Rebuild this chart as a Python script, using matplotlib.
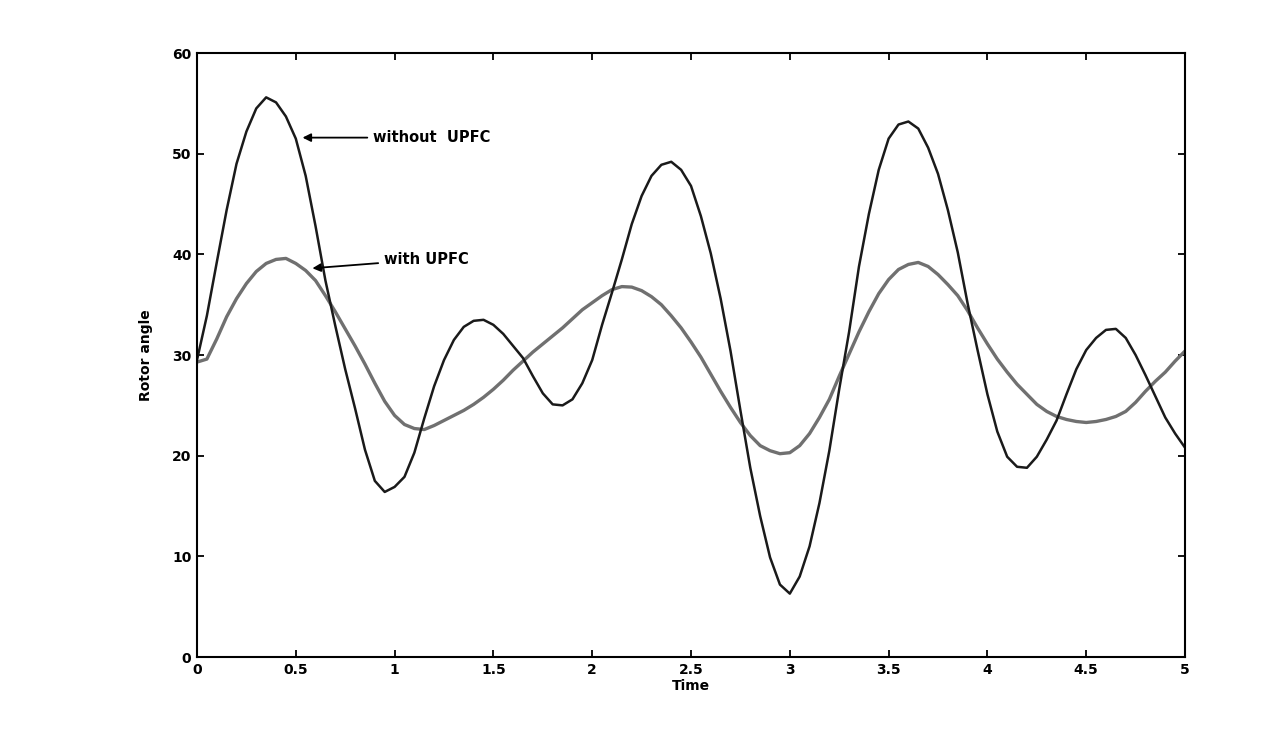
import matplotlib
matplotlib.use("Agg")
import matplotlib.pyplot as plt
import numpy as np

time = np.round(np.arange(0, 5.0001, 0.05), 2)

# Rotor angle without UPFC
without_upfc = [
    29.5, 33.9, 39.2, 44.4, 49.0, 52.2, 54.5, 55.6, 55.1, 53.7,
    51.5, 47.8, 42.8, 37.4, 32.9, 28.6, 24.7, 20.6, 17.5, 16.4,
    16.9, 17.9, 20.3, 23.7, 26.9, 29.5, 31.5, 32.8, 33.4, 33.5,
    33.0, 32.1, 30.9, 29.7, 27.9, 26.2, 25.1, 25.0, 25.6, 27.2,
    29.5, 33.0, 36.2, 39.5, 43.0, 45.8, 47.8, 48.9, 49.2, 48.4,
    46.8, 43.8, 40.1, 35.6, 30.4, 24.5, 18.8, 14.0, 9.9, 7.2,
    6.3, 8.0, 11.0, 15.3, 20.5, 26.6, 32.3, 38.8, 44.0, 48.4,
    51.5, 52.9, 53.2, 52.5, 50.6, 48.0, 44.4, 40.2, 35.1, 30.5,
    26.1, 22.4, 19.9, 18.9, 18.8, 19.9, 21.6, 23.5, 26.1, 28.6,
    30.5, 31.7, 32.5, 32.6, 31.7, 30.0, 28.0, 25.9, 23.8, 22.2,
    20.8,
]

# Rotor angle with UPFC
with_upfc = [
    29.3, 29.6, 31.6, 33.8, 35.6, 37.1, 38.3, 39.1, 39.5, 39.6,
    39.1, 38.4, 37.4, 35.9, 34.3, 32.6, 30.9, 29.1, 27.2, 25.4,
    24.0, 23.1, 22.7, 22.6, 23.0, 23.5, 24.0, 24.5, 25.1, 25.8,
    26.6, 27.5, 28.5, 29.4, 30.3, 31.1, 31.9, 32.7, 33.6, 34.5,
    35.2, 35.9, 36.5, 36.8, 36.75, 36.4, 35.8, 35.0, 33.9, 32.7,
    31.3, 29.8, 28.1, 26.4, 24.8, 23.3, 22.0, 21.0, 20.5, 20.2,
    20.3, 21.0, 22.2, 23.8, 25.6, 27.9, 30.1, 32.3, 34.3, 36.1,
    37.5, 38.5, 39.0, 39.2, 38.8, 38.0, 37.0, 35.9, 34.4, 32.7,
    31.1, 29.6, 28.3, 27.1, 26.1, 25.1, 24.4, 23.9, 23.6, 23.4,
    23.3, 23.4, 23.6, 23.9, 24.4, 25.3, 26.4, 27.4, 28.3, 29.4,
    30.4,
]

x_ticks = [0, 0.5, 1, 1.5, 2, 2.5, 3, 3.5, 4, 4.5, 5]
x_tick_labels = ["0", "0.5", "1", "1.5", "2", "2.5", "3", "3.5", "4", "4.5", "5"]
y_ticks = [0, 10, 20, 30, 40, 50, 60]

fig = plt.figure(figsize=(12.85, 7.37), dpi=100)
ax = fig.add_axes([0.1533, 0.1085, 0.7689, 0.8195])

ax.plot(time, with_upfc, color="#707070", linewidth=2.4)
ax.plot(time, without_upfc, color="#1a1a1a", linewidth=1.8)

ax.set_xlim(0, 5)
ax.set_ylim(0, 60)
ax.set_xticks(x_ticks)
ax.set_xticklabels(x_tick_labels)
ax.set_yticks(y_ticks)
ax.tick_params(direction="in", length=5, width=1.3, top=True, right=True,
               labelsize=10, pad=4)
for lbl in ax.get_xticklabels() + ax.get_yticklabels():
    lbl.set_fontweight("bold")
for sp in ax.spines.values():
    sp.set_linewidth(1.5)

ax.set_xlabel("Time", fontsize=10, fontweight="bold", labelpad=2)
ax.set_ylabel("Rotor angle", fontsize=10, fontweight="bold", labelpad=14)

arrow = dict(arrowstyle="-|>", color="black", lw=1.3, mutation_scale=12)
ax.annotate("without  UPFC", xy=(0.52, 51.6), xytext=(0.89, 51.6),
            fontsize=10.5, fontweight="bold", va="center", arrowprops=arrow)
ax.annotate("with UPFC", xy=(0.57, 38.6), xytext=(0.945, 39.5),
            fontsize=10.5, fontweight="bold", va="center", arrowprops=arrow)

fig.savefig("out.png", dpi=100)
